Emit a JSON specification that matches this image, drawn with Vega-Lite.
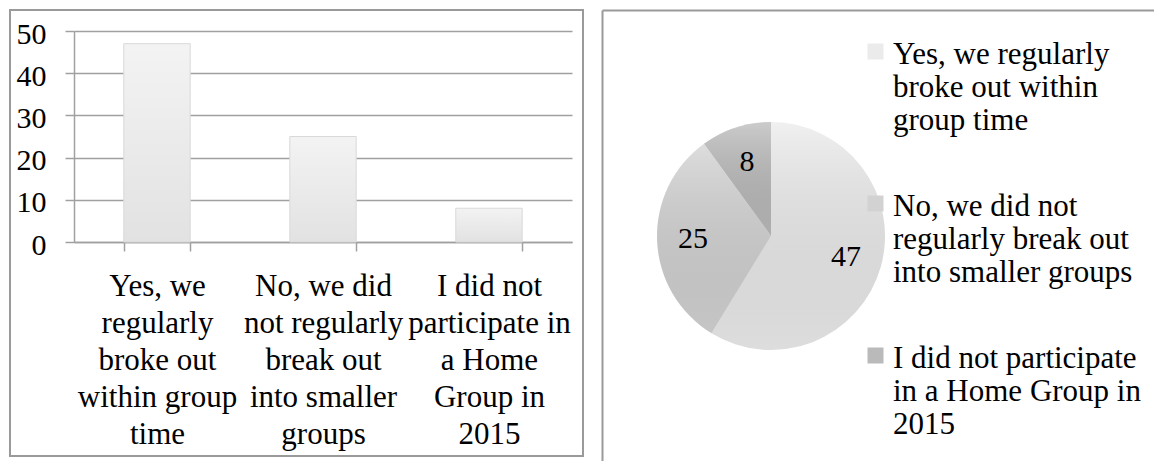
{
  "$schema": "https://vega.github.io/schema/vega-lite/v6.json",
  "padding": {"left": 9, "top": 9, "right": 0, "bottom": 0},
  "background": "#ffffff",
  "config": {"font": "Liberation Serif"},
  "data": {
    "values": [
      {"answer": "Yes, we regularly broke out within group time", "count": 47, "order": 1},
      {"answer": "No, we did not regularly break out into smaller groups", "count": 25, "order": 2},
      {"answer": "I did not participate in a Home Group in 2015", "count": 8, "order": 3}
    ]
  },
  "spacing": 18,
  "resolve": {
    "scale": {"x": "independent", "y": "independent", "color": "independent", "theta": "independent"},
    "axis": {"x": "independent", "y": "independent"},
    "legend": {"color": "independent"}
  },
  "hconcat": [
    {
      "width": 573,
      "height": 446,
      "view": {"stroke": "#9a9a9a", "strokeWidth": 2},
      "mark": {
        "type": "bar",
        "color": {
          "gradient": "linear", "x1": 0, "y1": 0, "x2": 0, "y2": 1,
          "stops": [{"offset": 0, "color": "#f3f3f3"}, {"offset": 1, "color": "#e2e2e2"}]
        },
        "stroke": "#d9d9d9",
        "strokeWidth": 1
      },
      "encoding": {
        "x": {
          "field": "answer", "type": "nominal", "sort": null,
          "scale": {"range": [64, 562], "paddingInner": 0.6, "paddingOuter": 0.3},
          "axis": {
            "orient": "bottom", "offset": -214, "title": null,
            "tickBand": "extent", "tickSize": 9, "tickColor": "#a0a0a0", "tickWidth": 1.5,
            "domainColor": "#a0a0a0", "domainWidth": 1.5, "grid": false,
            "labelAngle": 0, "labelFont": "Liberation Serif", "labelFontSize": 31, "labelColor": "#000000",
            "labelPadding": 20, "labelLineHeight": 37, "labelLimit": 500, "labelOverlap": false, "labelBound": false, "labelFlush": false,
            "labelExpr": "datum.label == 'Yes, we regularly broke out within group time' ? ['Yes, we', 'regularly', 'broke out', 'within group', 'time'] : datum.label == 'No, we did not regularly break out into smaller groups' ? ['No, we did', 'not regularly', 'break out', 'into smaller', 'groups'] : datum.label == 'I did not participate in a Home Group in 2015' ? ['I did not', 'participate in', 'a Home', 'Group in', '2015'] : ''"
          }
        },
        "y": {
          "field": "count", "type": "quantitative",
          "scale": {"domain": [0, 50], "range": [232, 21], "nice": false},
          "axis": {
            "orient": "left", "offset": -64, "title": null,
            "values": [0, 10, 20, 30, 40, 50],
            "tickSize": 9, "tickColor": "#a0a0a0", "tickWidth": 1.5,
            "domainColor": "#a0a0a0", "domainWidth": 1.5,
            "grid": true, "gridColor": "#a0a0a0", "gridWidth": 1.5,
            "labelFont": "Liberation Serif", "labelFontSize": 30, "labelColor": "#000000",
            "labelPadding": 19, "labelOffset": 3
          }
        }
      }
    },
    {
      "width": 338,
      "height": 452,
      "view": {"stroke": null},
      "layer": [
        {
          "mark": {"type": "point", "opacity": 0, "size": 1},
          "encoding": {
            "x": {
              "field": "count", "type": "quantitative",
              "scale": {"domain": [0, 50], "range": [0, 552], "nice": false},
              "axis": {"orient": "top", "title": null, "ticks": false, "labels": false, "grid": false, "domainColor": "#9a9a9a", "domainWidth": 2}
            },
            "y": {
              "field": "count", "type": "quantitative",
              "scale": {"domain": [0, 50], "range": [0, 452], "nice": false},
              "axis": {"orient": "left", "title": null, "ticks": false, "labels": false, "grid": false, "domainColor": "#9a9a9a", "domainWidth": 2}
            }
          }
        },
        {
          "mark": {"type": "arc", "outerRadius": 114},
          "encoding": {
            "theta": {"field": "count", "type": "quantitative", "stack": true},
            "order": {"field": "order", "type": "quantitative"},
            "color": {
              "field": "answer", "type": "nominal", "sort": null,
              "scale": {
                "domain": ["Yes, we regularly broke out within group time", "No, we did not regularly break out into smaller groups", "I did not participate in a Home Group in 2015"],
                "range": ["#ebebeb", "#d2d2d2", "#bababa"]
              },
              "legend": {
                "orient": "none", "legendX": 258, "legendY": 26, "padding": 0,
                "title": null, "symbolType": "square", "symbolSize": 256, "symbolStrokeWidth": 0,
                "labelFont": "Liberation Serif", "labelFontSize": 31, "labelColor": "#000000",
                "labelLineHeight": 36, "labelOffset": 2, "labelLimit": 500, "labelBaseline": "alphabetic",
                "rowPadding": 52,
                "labelExpr": "datum.label == 'Yes, we regularly broke out within group time' ? ['Yes, we regularly', 'broke out within', 'group time'] : datum.label == 'No, we did not regularly break out into smaller groups' ? ['No, we did not', 'regularly break out', 'into smaller groups'] : ['I did not participate', 'in a Home Group in', '2015']",
                "encoding": {"labels": {"dy": {"value": 12}}}
              }
            }
          }
        },
        {
          "mark": {
            "type": "arc", "outerRadius": 114,
            "color": {
              "gradient": "linear", "x1": 0, "y1": 0, "x2": 0, "y2": 1,
              "stops": [{"offset": 0, "color": "rgba(255,255,255,0.25)"}, {"offset": 1, "color": "rgba(0,0,0,0.06)"}]
            }
          },
          "encoding": {
            "theta": {"field": "count", "type": "quantitative", "stack": true},
            "order": {"field": "order", "type": "quantitative"}
          }
        },
        {
          "mark": {"type": "text", "radius": 78, "font": "Liberation Serif", "fontSize": 30, "color": "#000000"},
          "encoding": {
            "theta": {"field": "count", "type": "quantitative", "stack": true},
            "order": {"field": "order", "type": "quantitative"},
            "text": {"field": "count", "type": "quantitative"}
          }
        }
      ]
    }
  ]
}
